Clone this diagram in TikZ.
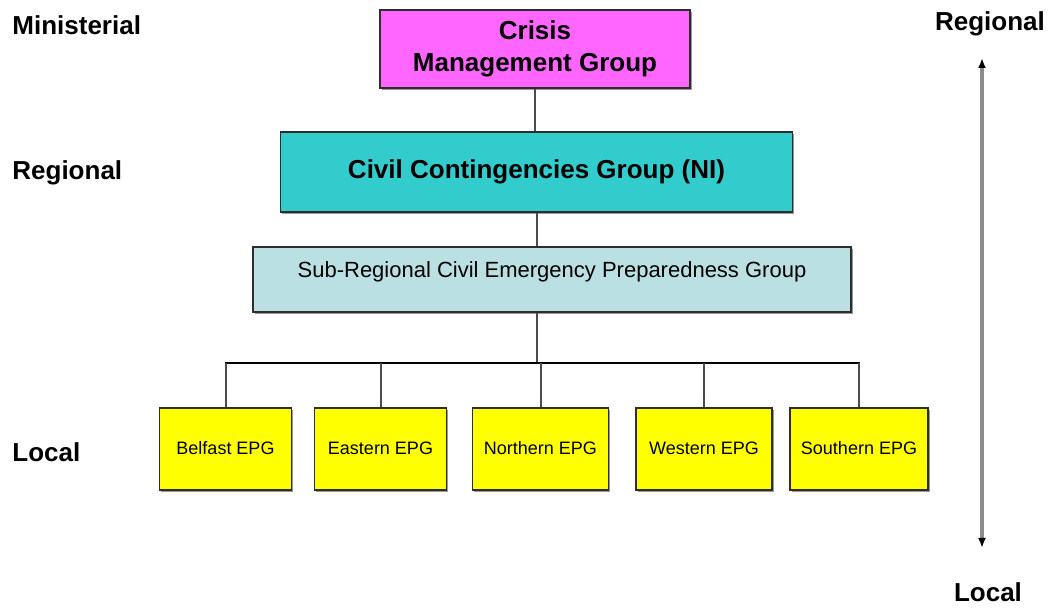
\documentclass[tikz,border=0pt]{standalone}
\usepackage{fontspec}
\setmainfont{Liberation Sans}
\usepackage{xcolor}
\usepackage{tikz}
\usetikzlibrary{shapes,arrows.meta,shadows}
\definecolor{cmgpink}{RGB}{255,102,255}
\definecolor{ccgteal}{RGB}{51,204,204}
\definecolor{subblue}{RGB}{187,224,227}
\definecolor{epgyellow}{RGB}{255,255,0}
\definecolor{boxline}{RGB}{45,45,45}
\tikzstyle{block} = [rectangle, sharp corners, draw=boxline, line width=0.7pt,
                     text centered, inner sep=0pt,
                     drop shadow={shadow xshift=0.9pt, shadow yshift=-0.9pt, fill=black!40, opacity=1}]
\tikzstyle{block1} = [block, fill=cmgpink, align=center,
                     font=\fontsize{13}{16}\selectfont\bfseries,
                     minimum width=155pt, minimum height=39pt]
\tikzstyle{block2} = [block, fill=ccgteal,
                     font=\fontsize{13}{16}\selectfont\bfseries,
                     minimum width=256pt, minimum height=40pt]
\tikzstyle{block3} = [block, fill=subblue, text height=8pt, text depth=10pt,
                     font=\fontsize{11}{13}\selectfont,
                     minimum width=299pt, minimum height=32.5pt]
\tikzstyle{epg} = [block, fill=epgyellow, text height=6.5pt, text depth=1pt,
                     font=\fontsize{9}{11}\selectfont,
                     minimum width=66pt, minimum height=41pt]

\begin{document}
\begin{tikzpicture}[x=0.5pt, y=-0.5pt,
link/.style={draw=black!70, line width=1pt},
tier/.style={anchor=west, inner sep=0pt, font=\fontsize{13}{16}\selectfont\bfseries},
scalelabel/.style={inner sep=0pt, font=\fontsize{13}{16}\selectfont\bfseries}]
\useasboundingbox (0,0) rectangle (1051,609);

% Tiers
\node[tier] (ministerial) at (12,25) {Ministerial};
\node[tier] (regional) at (12,173) {Regional};
\node[tier] (local) at (12,452) {Local};

% Groups
\node[block1] (cmg) at (535,49) {Crisis\\Management Group};
\node[block2] (ccg) at (536.5,172) {Civil Contingencies Group (NI)};
\node[block3] (subgroup) at (552,279.5) {Sub-Regional Civil Emergency Preparedness Group};

%Local EPGs
\node[epg] (belfast) at (225.5,449) {Belfast EPG};
\node[epg] (eastern) at (380.5,449) {Eastern EPG};
\node[epg, minimum width=68pt] (northern) at (540.5,449) {Northern EPG};
\node[epg, minimum width=68pt] (western) at (704,449) {Western EPG};
\node[epg, minimum width=69pt] (southern) at (859,449) {Southern EPG};

% Links
\coordinate (bus) at (536,363);
\draw[link] (cmg.south) -- (ccg.north -| cmg.south);
\draw[link] (ccg.south) -- (ccg.south |- subgroup.north);
\draw[link] (ccg.south |- subgroup.south) -- (ccg.south |- bus);
\draw[black, line width=1pt, line cap=rect] (belfast.north |- bus) -- (southern.north |- bus);
\foreach \g in {belfast,eastern,northern,western,southern}
  \draw[link] (\g.north) -- (\g.north |- bus);

% Scale
\node[scalelabel] (regtop) at (990,24) {Regional};
\node[scalelabel] (locbot) at (988,592) {Local};
\coordinate (scaletop) at (982,58);
\coordinate (scalebot) at (982,548);
\draw[black!45, line width=1.6pt, {Latex[black,length=5pt,width=4pt]}-{Latex[black,length=5pt,width=4pt]}] (scaletop) -- (scalebot);
\end{tikzpicture}
\end{document}
